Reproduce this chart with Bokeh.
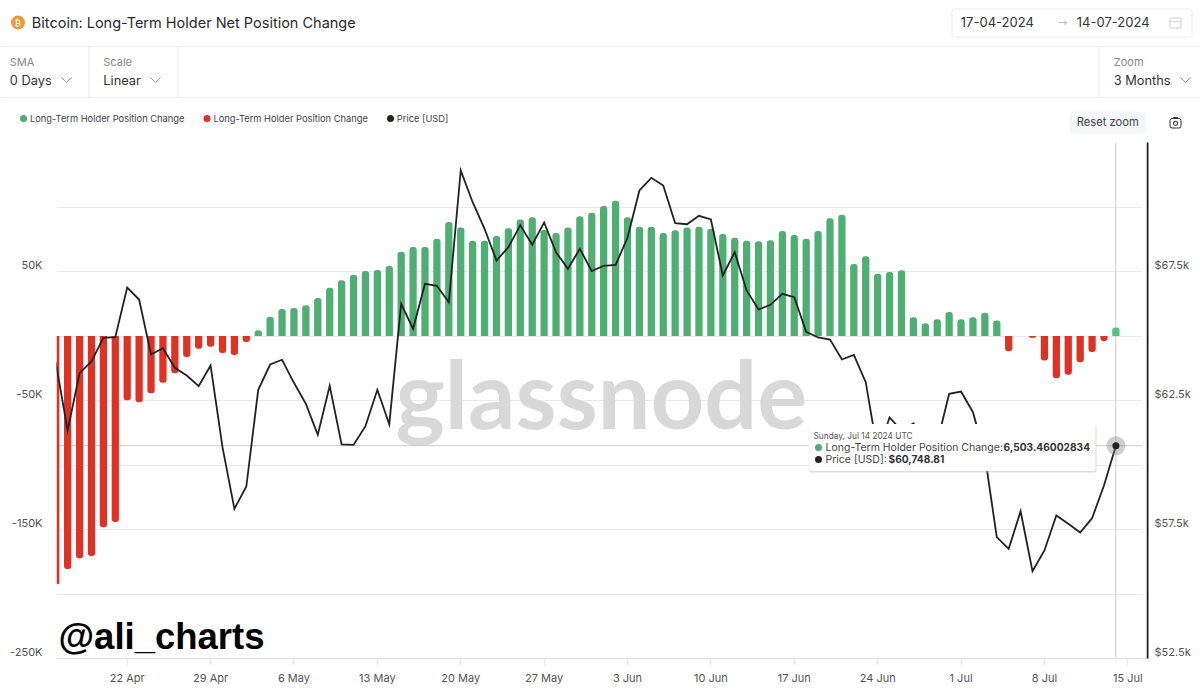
from bokeh.embed import file_html
from bokeh.resources import INLINE
from bokeh.plotting import figure
from bokeh.layouts import column
from bokeh.models import (ColumnDataSource, LinearAxis, Range1d, FixedTicker, Span, Label,
                          BoxAnnotation, Legend, LegendItem)
import math
import pandas as pd

# ---------- data ----------
start_date = "2024-04-16"
position_change = [
    -192500, -180600, -172300, -170500, -148300, -144200, -49900, -51400, -44400, -36200,
    -28900, -16300, -9800, -8300, -13200, -14700, -4700, 4400, 15000, 20900,
    21700, 23800, 29500, 37500, 43200, 47500, 50400, 51200, 54200, 65400,
    69000, 69000, 75400, 88400, 84200, 73900, 73900, 77500, 83500, 90400,
    92000, 82200, 79800, 84200, 92800, 95600, 100800, 104900, 92000, 84700,
    84700, 79800, 81900, 84200, 84700, 83200, 79000, 76200, 73900, 73400,
    74200, 81400, 78300, 75400, 81400, 91200, 94000, 55900, 61800, 48300,
    49600, 50900, 14500, 9800, 12900, 18600, 12900, 14500, 18100, 12100,
    -11900, 0, -1300, -18900, -32800, -30000, -20400, -12400, -3900, 6503.46,
]
price = [
    63985, 61337, 63558, 64012, 64930, 64954, 66880, 66415, 64283, 64527,
    63767, 63469, 63054, 63857, 60690, 58302, 59167, 62915, 63895, 64078,
    63186, 62372, 61171, 63070, 60795, 60780, 61504, 62915, 61581, 66248,
    65279, 67023, 66946, 66310, 71415, 70186, 69155, 67926, 68442, 69295,
    68535, 69399, 68248, 67605, 68380, 67512, 67721, 67760, 68806, 70640,
    71132, 70833, 69372, 69333, 69659, 69516, 67345, 68248, 66764, 66027,
    66209, 66636, 66504, 65163, 64942, 64864, 64089, 64271, 63209, 60485,
    61841, 61337, 61609, 61066, 60872, 62760, 62849, 62047, 60368, 57202,
    56752, 58209, 55884, 56686, 58043, 57721, 57384, 57938, 59205, 60748.81,
]
x_tick_dates = ["2024-04-22", "2024-04-29", "2024-05-06", "2024-05-13", "2024-05-20", "2024-05-27", "2024-06-03",
                "2024-06-10", "2024-06-17", "2024-06-24", "2024-07-01", "2024-07-08", "2024-07-15"]
x_tick_labels = ["22 Apr", "29 Apr", "6 May", "13 May", "20 May", "27 May", "3 Jun",
                 "10 Jun", "17 Jun", "24 Jun", "1 Jul", "8 Jul", "15 Jul"]
left_ticks = [50000, -50000, -150000, -250000]
left_labels = ["50K", "-50K", "-150K", "-250K"]
right_ticks = [67500, 62500, 57500, 52500]
right_labels = ["$67.5k", "$62.5k", "$57.5k", "$52.5k"]
grid_ticks = [150000, 100000, 50000, 0, -50000, -100000, -150000, -200000, -250000]
series_names = ["Long-Term Holder Position Change", "Long-Term Holder Position Change", "Price [USD]"]
hover_date = "2024-07-14"
hover_price = 60748.81

# ---------- layout constants ----------
GREEN, GREEN_HI, RED, INK = "#4fae72", "#55c285", "#e03224", "#222222"
LINE = "#ececec"
FONT = "Inter"
WIN_W, WIN_H = 1200, 693
F_L, F_R, F_T, F_B = 56, 1147, 142, 658      # chart frame in window pixels
DAY = 86400000
def ms(s):
    return int(pd.Timestamp(s).timestamp() * 1000)

# ---------- header figure: page chrome, in window-pixel data units ----------
h = figure(width=WIN_W, height=F_T, output_backend="svg", toolbar_location=None,
           x_range=Range1d(0, WIN_W), y_range=Range1d(F_T, 0), x_axis_location=None, y_axis_location=None,
           min_border=0, background_fill_color="white", border_fill_color="white", outline_line_color=None,
           frame_align=False)
h.xgrid.visible = False
h.ygrid.visible = False

def htext(px, py, s, size, color="#333333", weight="normal", font=FONT, align="left"):
    h.add_layout(Label(x=px - 0.7, y=py - 1, text=s, text_font=font, text_font_size=f"{size}px", text_color=color,
                       text_font_style=weight, text_align=align, text_baseline="middle"))
def hbox(x0, y0, x1, y1, fill=None, line=None, lw=1, radius=0):
    h.add_layout(BoxAnnotation(left=x0, right=x1, top=y0, bottom=y1, fill_color=fill, fill_alpha=1 if fill else 0,
                               line_color=line, line_alpha=1 if line else 0, line_width=lw,
                               border_radius=int(math.ceil(radius)), editable=False))
def hdot(cx, cy, r, fill):
    hbox(cx - r, cy - r, cx + r, cy + r, fill=fill, radius=r)
def chevron(cx, cy):
    h.line([cx - 5, cx, cx + 5], [cy - 2.5, cy + 2.5, cy - 2.5], line_color="#999999", line_width=1)

hbox(0, 45.5, WIN_W, 46.5, fill=LINE)
hbox(0, 96.5, WIN_W, 97.5, fill=LINE)
hbox(88, 46, 89, 97, fill=LINE)
hbox(177, 46, 178, 97, fill=LINE)
hbox(1098, 46, 1099, 97, fill=LINE)

hdot(17.5, 22, 7, "#ea9a3e")
htext(18, 23, "₿", 9, "white", font="DejaVu Sans", align="center")
htext(32, 22.5, "Bitcoin: Long-Term Holder Net Position Change", 14.5, "#2a2a2a")

hbox(951.5, 8.5, 1191.5, 36.5, fill="white", line="#ececec", radius=2)
htext(961, 22.5, "17-04-2024", 13, "#333333")
htext(1058, 22.5, "→", 11, "#bbbbbb", font="DejaVu Sans")
htext(1077, 22.5, "14-07-2024", 13, "#333333")
hbox(1169.5, 17.5, 1180.5, 27.5, line="#cccccc", radius=1)
hbox(1169.5, 20.5, 1180.5, 21.3, fill="#cccccc")

htext(10, 62, "SMA", 11, "#888888")
htext(10, 80.5, "0 Days", 12.8, "#333333")
chevron(66, 79.5)
htext(103.5, 62, "Scale", 11, "#888888")
htext(103.5, 80.5, "Linear", 12.8, "#333333")
chevron(155, 79.5)
htext(1114, 62, "Zoom", 11, "#888888")
htext(1114, 80.5, "3 Months", 12.8, "#333333")
chevron(1185, 79.5)

hbox(1069, 111, 1145, 133, fill="#f5f6f8", radius=4)
htext(1077, 122, "Reset zoom", 11.2, "#444444")
hbox(1169.5, 118, 1180.5, 127.5, line="#333333", lw=1, radius=2)
hdot(1175, 122.8, 2.5, "#333333")
hdot(1175, 122.8, 1.5, "white")
hbox(1172.5, 116.5, 1177.5, 118.5, fill="#333333", radius=1)

# legend swatches: one off-range point each, only the key is visible
legend_colors = (GREEN, RED, INK)
sw = [h.scatter([-50], [-50], size=7, fill_color=c, line_color=None) for c in legend_colors]
legend = Legend(items=[LegendItem(label=n, renderers=[r]) for n, r in zip(series_names, sw)],
                orientation="horizontal", location=(19, F_T - 124),
                border_line_color=None, background_fill_alpha=0, margin=0, padding=0,
                glyph_width=8, glyph_height=12, label_standoff=3, spacing=18,
                label_text_font=FONT, label_text_font_size="9.3px", label_text_color="#444444",
                label_height=12)
h.add_layout(legend)
for cx, c in zip((23, 206.5, 390), legend_colors):
    hdot(cx, 118, 3.5, c)

# ---------- chart figure ----------
dates = pd.date_range(start_date, periods=len(price), freq="D")
xs = [int(d.timestamp() * 1000) for d in dates]
anchor = ms("2024-04-22")
x_lo, x_hi = anchor - 5.935 * DAY, anchor + (F_R - 126.7) / 11.912 * DAY

p = figure(width=WIN_W, height=WIN_H - F_T, output_backend="svg", toolbar_location=None,
           x_axis_type="datetime", x_range=Range1d(x_lo, x_hi), y_range=Range1d(-250000, 150000),
           y_axis_location=None, min_border_left=F_L, min_border_top=0,
           min_border_right=WIN_W - F_R, min_border_bottom=WIN_H - F_B,
           background_fill_color="white", border_fill_color="white", outline_line_color=None,
           frame_align=False)

# price range plus axis ranges lifted 7 px so that labels sit over their gridlines
p.extra_y_ranges["price"] = Range1d(52500, 72500)
LIFT = 7 / (F_B - F_T)
p.extra_y_ranges["left_lab"] = Range1d(-250000 - LIFT * 400000, 150000 - LIFT * 400000)
p.extra_y_ranges["right_lab"] = Range1d(52500 - LIFT * 20000, 72500 - LIFT * 20000)

def style_axis(a):
    a.minor_tick_line_color = None
    a.major_tick_line_color = None
    a.major_tick_in = 0
    a.major_tick_out = 0
    a.major_label_text_font = FONT
    a.major_label_text_font_size = "11px"
    a.major_label_text_color = "#555555"

la = LinearAxis(y_range_name="left_lab", ticker=FixedTicker(ticks=left_ticks),
                major_label_overrides=dict(zip(left_ticks, left_labels)))
style_axis(la)
la.axis_line_color = None
la.major_label_standoff = 14
p.add_layout(la, "left")
ra = LinearAxis(y_range_name="right_lab", ticker=FixedTicker(ticks=right_ticks),
                major_label_overrides=dict(zip(right_ticks, right_labels)))
style_axis(ra)
ra.axis_line_color = "#1a1a1a"
ra.axis_line_width = 2
ra.major_label_standoff = 7
p.add_layout(ra, "right")

xa = p.xaxis[0]
xa.ticker = FixedTicker(ticks=[ms(d) for d in x_tick_dates])
xa.major_label_overrides = {ms(d): l for d, l in zip(x_tick_dates, x_tick_labels)}
xa.axis_line_color = "#dcdcdc"
xa.major_tick_line_color = "#e6e6e6"
xa.major_tick_in = 0
xa.major_tick_out = 7
xa.minor_tick_line_color = None
xa.major_label_standoff = 5
xa.major_label_text_font = FONT
xa.major_label_text_font_size = "11px"
xa.major_label_text_color = "#555555"

p.xgrid.visible = False
p.ygrid.ticker = FixedTicker(ticks=grid_ticks)
p.ygrid.grid_line_color = "#e9e9e9"

def text(px, py, s, size, color="#333333", weight="normal", font=FONT, baseline="middle", level="annotation"):
    p.add_layout(Label(x=px - F_L, y=F_B - py, x_units="screen", y_units="screen", text=s, text_font=font,
                       text_font_size=f"{size}px", text_color=color, text_font_style=weight,
                       text_align="left", text_baseline=baseline, level=level))
def box(x0, y0, x1, y1, fill="white", radius=0, alpha=1.0):
    p.add_layout(BoxAnnotation(left=x0, right=x1, top=y0 - F_T, bottom=y1 - F_T,
                               left_units="canvas", right_units="canvas", top_units="canvas", bottom_units="canvas",
                               fill_color=fill, fill_alpha=alpha, line_alpha=0,
                               border_radius=int(math.ceil(radius)), editable=False))
def dot(cx, cy, r, fill):
    box(cx - r, cy - r, cx + r, cy + r, fill=fill, radius=r)

# watermark
text(395, 392, "glassnode", 93.5, "#d8d8d8", "bold", font="Lato", level="underlay")

# bars
pos = [(x, v) for x, v in zip(xs, position_change) if v >= 0]
neg = [(x, v) for x, v in zip(xs, position_change) if v < 0]
W = 0.61 * DAY
src_pos = ColumnDataSource(dict(x=[a for a, _ in pos], top=[b for _, b in pos],
                                color=[GREEN_HI if a == ms(hover_date) else GREEN for a, _ in pos]))
src_neg = ColumnDataSource(dict(x=[a for a, _ in neg], bottom=[b for _, b in neg]))
p.vbar(x="x", width=W, top="top", bottom=0, source=src_pos, fill_color="color", line_color=None,
       border_radius=(3, 3, 0, 0))
p.vbar(x="x", width=W, top=0, bottom="bottom", source=src_neg, fill_color=RED, line_color=None,
       border_radius=(0, 0, 3, 3))

# crosshair
p.add_layout(Span(location=ms(hover_date), dimension="height", line_color="#cccccc", line_width=1, level="underlay"))
p.add_layout(Span(location=hover_price, y_range_name="price", dimension="width", line_color="#cccccc", line_width=1, level="underlay"))

# price line
p.line(xs, price, y_range_name="price", line_color=INK, line_width=1.8, line_join="miter")
p.scatter([ms(hover_date)], [hover_price], y_range_name="price", size=19, fill_color="#888888",
          fill_alpha=0.4, line_color=None)
p.scatter([ms(hover_date)], [hover_price], y_range_name="price", size=7, fill_color=INK, line_color=None)

# gap between grid end and the right axis rule
box(1141.5, F_T, 1146, F_B, fill="white")

# tooltip
box(808, 425, 1096, 472, fill="#bbbbbb", alpha=0.5, radius=2)
box(808, 423.5, 1095, 470.5, fill="white", radius=2)
text(813, 435, "Sunday, Jul 14 2024 UTC", 8.3, "#555555")
dot(818, 447, 3.5, GREEN)
text(825, 446.5, "Long-Term Holder Position Change: ", 10.5, "#444444")
text(1003, 446.5, "6,503.46002834", 10.2, "#333333", "bold")
dot(818, 459, 3.5, INK)
text(825, 458.5, "Price [USD]: ", 10.5, "#444444")
text(888, 458.5, "$60,748.81", 10.2, "#333333", "bold")

# handle
text(58, 635.5, "@ali_charts", 36.5, "#000000", "bold", font="Liberation Sans")

page = column(h, p, spacing=0)
open("out.html", "w").write(file_html(page, INLINE))
